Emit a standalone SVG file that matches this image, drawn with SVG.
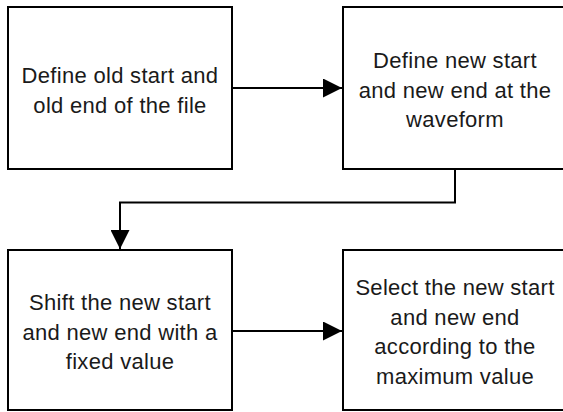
<svg xmlns="http://www.w3.org/2000/svg" width="563" height="412" viewBox="0 0 563 412">
<defs>
<style>
.box{fill:#fff;stroke:#000;stroke-width:2}
.lbl{font-family:"Liberation Sans",Arial,sans-serif;font-size:22px;fill:#1a1a1a;text-anchor:middle;letter-spacing:0.3px}
.conn{fill:none;stroke:#000;stroke-width:2}
</style>
<marker id="arr" markerUnits="userSpaceOnUse" markerWidth="19" markerHeight="19" refX="19" refY="9.5" orient="auto">
<path d="M0,0 L19,9.5 L0,19 Z" fill="#000"/>
</marker>
</defs>
<rect width="563" height="412" fill="#fff"/>
<g id="connectors">
<path class="conn" d="M232,88 H342" marker-end="url(#arr)"/>
<path class="conn" d="M455,169 V202.5 H120 V249" marker-end="url(#arr)"/>
<path class="conn" d="M232,331 H342" marker-end="url(#arr)"/>
</g>
<g id="node1">
<rect class="box" x="8" y="7" width="224" height="162"/>
<text class="lbl" x="120" y="83">Define old start and</text>
<text class="lbl" x="120" y="112.5">old end of the file</text>
</g>
<g id="node2">
<rect class="box" x="343" y="7" width="224" height="162"/>
<text class="lbl" x="455" y="68">Define new start</text>
<text class="lbl" x="455" y="97.5">and new end at the</text>
<text class="lbl" x="455" y="127">waveform</text>
</g>
<g id="node3">
<rect class="box" x="8" y="250" width="224" height="160"/>
<text class="lbl" x="120" y="310">Shift the new start</text>
<text class="lbl" x="120" y="339.5">and new end with a</text>
<text class="lbl" x="120" y="369">fixed value</text>
</g>
<g id="node4">
<rect class="box" x="343" y="250" width="224" height="160"/>
<text class="lbl" x="455" y="295">Select the new start</text>
<text class="lbl" x="455" y="324.5">and new end</text>
<text class="lbl" x="455" y="354">according to the</text>
<text class="lbl" x="455" y="383.5">maximum value</text>
</g>
</svg>
